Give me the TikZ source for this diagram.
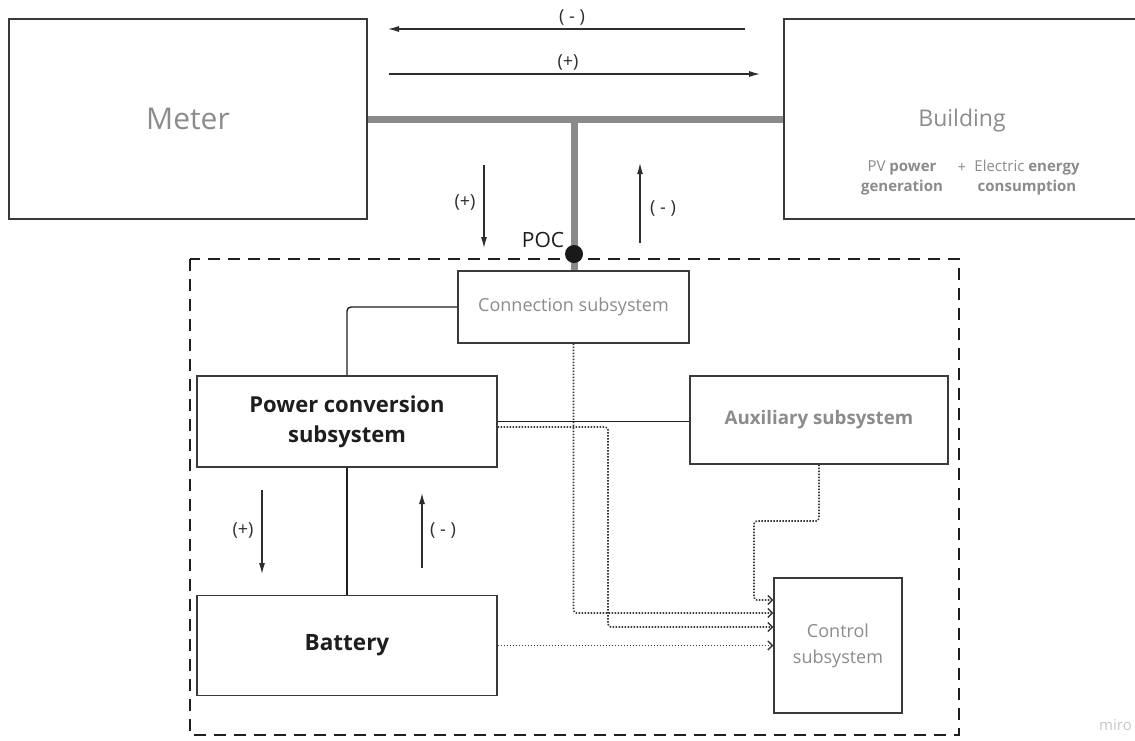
\documentclass[tikz,border=0pt]{standalone}
\usepackage{fontspec}
\setmainfont{Open Sans}
\usetikzlibrary{arrows.meta}
\definecolor{boxc}{HTML}{3A3A3A}
\definecolor{txtg}{HTML}{8C8C8C}
\definecolor{txtd}{HTML}{1E1E1E}
\definecolor{busc}{HTML}{8A8A8A}
\definecolor{lblc}{HTML}{2E2E2E}
\newcommand{\setfs}[2]{\fontsize{#1}{#2}\selectfont}
\tikzset{
  box/.style={draw=boxc, line width=1.4pt, inner sep=0pt, align=center},
  bus/.style={draw=busc, line width=7pt},
  conn/.style={draw=txtd, line width=1.4pt},
  sig/.style={draw=boxc, line width=1.6pt, dash pattern=on 1.5pt off 1.5pt, -{Straight Barb[length=4.5pt,width=9pt,line width=1.4pt]}},
  flow/.style={draw=lblc, line width=1.2pt, -{Latex[length=11pt,width=6pt]}},
  lbl/.style={text=lblc, font=\setfs{18}{20}},
}
\begin{document}
\begin{tikzpicture}[x=1pt,y=-1pt]
\useasboundingbox (0,0) rectangle (1135,740);
\fill[white] (0,0) rectangle (1135,740);

% top level boxes
\node[box, minimum width=358pt, minimum height=200pt, text=txtg, font=\setfs{30}{34}] (meter) at (188,119) {Meter};
\node[box, minimum width=356pt, minimum height=200pt] (bld) at (962,119) {};
\node[text=txtg, font=\setfs{23}{26}] (bldt) at (962,121) {Building};
\node[text=txtg, font=\setfs{15}{20}, align=center] (pv) at (902,178) {PV \textbf{power}\\\textbf{generation}};
\node[text=txtg, font=\setfs{15}{20}] (plus) at (962,168) {+};
\node[text=txtg, font=\setfs{15}{20}, align=center] (ec) at (1027,178) {Electric \textbf{energy}\\\textbf{consumption}};

% bus
\coordinate (j) at (574,119);
\draw[bus] (meter.east) -- (bld.west);

% system boundary
\draw[draw=txtd, line width=2.4pt, dash pattern=on 12pt off 8pt] (190,259) rectangle (959,735);

% subsystems
\node[box, minimum width=231pt, minimum height=72pt, text=txtg, font=\setfs{18}{20}] (conn) at (573.5,307) {Connection subsystem};
\node[box, minimum width=300pt, minimum height=91pt, text=txtd, font=\bfseries\setfs{22}{30}] (pcs) at (347,421.5) {Power conversion\\subsystem};
\node[box, minimum width=258pt, minimum height=88pt, text=txtg, font=\bfseries\setfs{18.7}{20}] (aux) at (819,420) {Auxiliary subsystem};
\node[box, minimum width=300pt, minimum height=100pt, text=txtd, font=\bfseries\setfs{22.5}{24}] (bat) at (347,645.5) {Battery};
\node[box, minimum width=128pt, minimum height=135pt, text=txtg, font=\setfs{18}{26}] (ctrl) at (838,645.5) {Control\\subsystem};

\draw[bus] (j) -- (conn.north -| j);
\node[circle, fill=black!90, minimum size=18pt, inner sep=0pt] (poc) at (574,254) {};
\node[text=txtd, font=\setfs{21}{22}] (poct) at (543,240) {POC};

% top flow arrows
\coordinate (f1s) at (745,29); \coordinate (f1e) at (388,29);
\draw[flow] (f1s) -- (f1e);
\node[lbl] (f1l) at (572,17) {( - )};
\coordinate (f2s) at (389,74); \coordinate (f2e) at (760,74);
\draw[flow] (f2s) -- (f2e);
\node[lbl] (f2l) at (568,62) {(+)};

\coordinate (f3s) at (484,165); \coordinate (f3e) at (484,248);
\draw[flow] (f3s) -- (f3e);
\node[lbl] (f3l) at (465,202) {(+)};
\coordinate (f4s) at (640,243); \coordinate (f4e) at (640,163);
\draw[flow] (f4s) -- (f4e);
\node[lbl] (f4l) at (663,208) {( - )};

\coordinate (f5s) at (262,490); \coordinate (f5e) at (262,574);
\draw[flow] (f5s) -- (f5e);
\node[lbl] (f5l) at (243,530) {(+)};
\coordinate (f6s) at (422,568); \coordinate (f6e) at (422,493);
\draw[flow] (f6s) -- (f6e);
\node[lbl] (f6l) at (443,530) {( - )};

% power connections
\draw[conn, rounded corners=4pt] (pcs.north) |- (conn.west);
\draw[conn] (pcs.south) -- (bat.north);
\draw[conn] (pcs.east) -- (pcs.east -| aux.west);

% signal connections
\coordinate (c1) at (754,521);
\draw[sig, rounded corners=3pt] (aux.south) |- (c1) |- ([yshift=45.5pt]ctrl.west);
\draw[sig, rounded corners=3pt] (conn.south) |- ([yshift=32.5pt]ctrl.west);
\coordinate (c3) at (608,427);
\draw[sig, rounded corners=3pt] ([yshift=-5.5pt]pcs.east) -- (c3) |- ([yshift=18.5pt]ctrl.west);
\draw[sig] (bat.east) -- (bat.east -| ctrl.west);

% watermark
\node[text=black!22, font=\setfs{15}{16}, anchor=base west, inner sep=0pt] (miro) at (1099,730) {miro};
\end{tikzpicture}
\end{document}
